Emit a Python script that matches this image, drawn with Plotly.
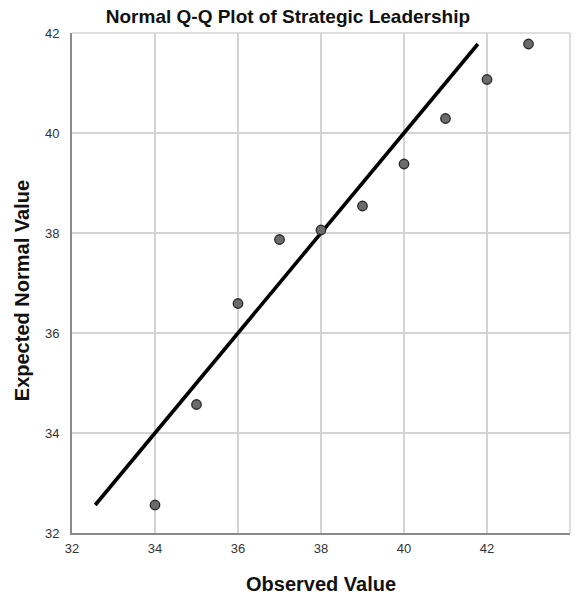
import plotly.graph_objects as go

# Observed scores and their expected normal quantiles
observed = [34, 35, 36, 37, 38, 39, 40, 41, 42, 43]
expected = [32.56, 34.57, 36.59, 37.87, 38.06, 38.54, 39.38, 40.29, 41.07, 41.78]

# Reference line y = x spanning the expected-value range
ref_line = [32.56, 41.78]

x_ticks = [32, 34, 36, 38, 40, 42, 44]
y_ticks = [32, 34, 36, 38, 40, 42]

font_family = "Liberation Sans, Arial, sans-serif"
grid_col = "#d4d4d4"
clear = "rgba(0,0,0,0)"

fig = go.Figure()
fig.add_trace(go.Scatter(
    x=ref_line, y=ref_line, mode="lines",
    line=dict(color="black", width=3.6),
    hoverinfo="skip", showlegend=False,
))
fig.add_trace(go.Scatter(
    x=observed, y=expected, mode="markers",
    marker=dict(size=9.5, color="#6b6b6b", line=dict(color="#2a2a2a", width=1.3)),
    showlegend=False,
))

fig.update_layout(
    width=577, height=597,
    margin=dict(l=72, r=7, t=33, b=64),
    paper_bgcolor="white", plot_bgcolor="white",
    font=dict(family=font_family, size=13, color="#333333"),
    title=dict(
        text="<b>Normal Q-Q Plot of Strategic Leadership</b>",
        x=0.499, xanchor="center", y=0.972, yanchor="middle",
        font=dict(family=font_family, size=19, color="#111111"),
    ),
    xaxis=dict(
        range=[32, 44], tickvals=x_ticks, ticktext=[str(v) for v in x_ticks],
        showgrid=True, gridcolor=grid_col, gridwidth=1.6,
        showline=True, linecolor="#8a8a8a", linewidth=2,
        zeroline=False, ticks="outside", ticklen=2, tickcolor=clear,
        automargin=False,
        tickfont=dict(size=13, color="#333333"),
    ),
    yaxis=dict(
        range=[32, 42], tickvals=y_ticks, ticktext=[str(v) for v in y_ticks],
        showgrid=True, gridcolor=grid_col, gridwidth=1.6,
        showline=True, linecolor="#8a8a8a", linewidth=2,
        zeroline=False, ticks="outside", ticklen=8, tickcolor=clear,
        automargin=False,
        tickfont=dict(size=13, color="#333333"),
    ),
)

# Axis titles
fig.add_annotation(
    text="<b>Observed Value</b>", xref="paper", yref="paper",
    x=0.5, y=-0.101, xanchor="center", yanchor="middle", showarrow=False,
    font=dict(family=font_family, size=20, color="#111111"),
)
fig.add_annotation(
    text="<b>Expected Normal Value</b>", xref="paper", yref="paper",
    x=-0.10, y=0.484, xanchor="center", yanchor="middle", showarrow=False,
    textangle=-90,
    font=dict(family=font_family, size=20, color="#111111"),
)

# Light frame on the top and right edges of the plotting area
fig.add_shape(type="line", xref="paper", yref="paper", x0=0, x1=1, y0=1, y1=1,
              line=dict(color=grid_col, width=1.6))
fig.add_shape(type="line", xref="paper", yref="paper", x0=1, x1=1, y0=0, y1=1,
              line=dict(color=grid_col, width=1.6))

fig.write_html("out.html")
